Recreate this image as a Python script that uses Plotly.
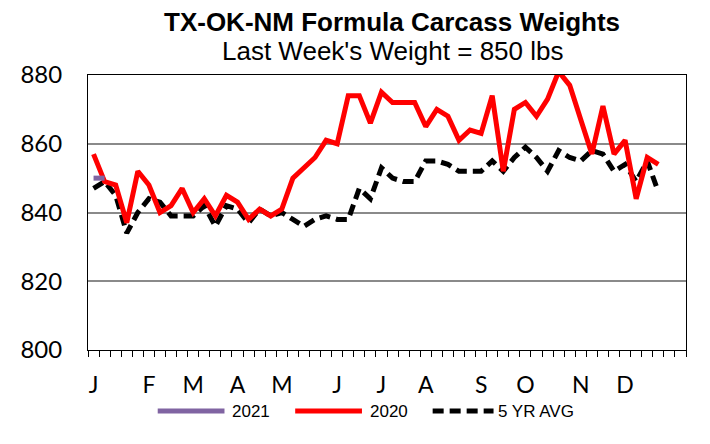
import plotly.graph_objects as go

# ---- data ----
weeks = list(range(1, 53))
w2021 = [850, 850]
w2020 = [857, 849, 848, 837, 852, 848, 840, 842, 847, 840, 844, 839, 845, 843, 838, 841,
         839, 841, 850, 853, 856, 861, 860, 874, 874, 866, 875, 872, 872, 872, 865, 870,
         868, 861, 864, 863, 874, 852, 870, 872, 868, 873, 881, 877, 867, 857, 871, 857,
         861, 844, 856, 854]
avg5 = [847, 849, 845, 834, 840, 844, 843, 839, 839, 839, 842, 836, 842, 841, 837, 841,
        839, 840, 838, 836, 838, 839, 838, 838, 847, 844, 853, 850, 849, 849, 855, 855,
        854, 852, 852, 852, 855, 852, 856, 859, 856, 852, 858, 856, 855, 858, 857, 852,
        854, 849, 855, 846]
month_labels = ["J", "F", "M", "A", "M", "J", "J", "A", "S", "O", "N", "D"]
month_weeks = [1, 6, 10, 14, 18, 23, 27, 31, 36, 40, 45, 49]
series_names = ["2021", "2020", "5 YR AVG"]
colors = ["#8064A2", "#FF0000", "#000000"]

# page is offset by the 8px body margin
OFF = 8
PL, PR, PT, PB = 77 - OFF, 686 - OFF, 75 - OFF, 350 - OFF
W, H = 710 - OFF, 444 - OFF

fig = go.Figure()
fig.add_trace(go.Scatter(x=weeks[:len(avg5)], y=avg5, mode="lines", name=series_names[2],
                         line=dict(color=colors[2], width=5, dash="11px,6px")))
fig.add_trace(go.Scatter(x=weeks[:len(w2020)], y=w2020, mode="lines", name=series_names[1],
                         line=dict(color=colors[1], width=5)))
fig.add_trace(go.Scatter(x=weeks[:len(w2021)], y=w2021, mode="lines", name=series_names[0],
                         line=dict(color=colors[0], width=5)))

fig.update_layout(
    width=W, height=H,
    margin=dict(l=PL, r=W - PR, t=PT, b=H - PB),
    paper_bgcolor="white", plot_bgcolor="white",
    showlegend=False,
    font=dict(family="Liberation Sans, Arial", color="black"),
)
fig.update_xaxes(
    range=[0.5, 54.5], tickmode="array", tickvals=month_weeks, ticktext=month_labels,
    ticks="", showgrid=False, zeroline=False,
    showline=True, linecolor="black", linewidth=1, mirror=True,
    tickfont=dict(family="Lato", size=23), ticklabelstandoff=14,
    minor=dict(tick0=0.5, dtick=1, ticks="outside", ticklen=6, tickcolor="black", tickwidth=1, showgrid=False),
)
fig.update_yaxes(
    range=[800, 880], dtick=20, ticks="", showgrid=True, gridcolor="#8a8a8a", gridwidth=2,
    zeroline=False, showline=True, linecolor="black", linewidth=1, mirror=True,
    tickfont=dict(family="Lato", size=24), ticklabelstandoff=20,
)


def px_x(p):
    return (p - OFF - PL) / (PR - PL)


def px_y(p):
    return (PB - (p - OFF)) / (PB - PT)


# titles
fig.add_annotation(text="<b>TX-OK-NM Formula Carcass Weights</b>", xref="paper", yref="paper",
                   x=px_x(387), y=px_y(22), showarrow=False,
                   font=dict(size=26, family="Liberation Sans, Arial"), xanchor="center", yanchor="middle")
fig.add_annotation(text="Last Week's Weight = 850 lbs", xref="paper", yref="paper",
                   x=px_x(387), y=px_y(51), showarrow=False,
                   font=dict(size=26, family="Liberation Sans, Arial"), xanchor="center", yanchor="middle")

# custom legend
leg_y = 411
legend_items = [
    (148, 216, 222, dict(color=colors[0], width=5), series_names[0]),
    (288, 356, 362, dict(color=colors[1], width=5), series_names[1]),
    (428, 490, 493, dict(color=colors[2], width=5, dash="11px,6px"), series_names[2]),
]
for x0, x1, xt, ln, label in legend_items:
    fig.add_shape(type="line", xref="paper", yref="paper", x0=px_x(x0), x1=px_x(x1),
                  y0=px_y(leg_y), y1=px_y(leg_y), line=ln)
    fig.add_annotation(text=label, xref="paper", yref="paper", x=px_x(xt), y=px_y(leg_y),
                       showarrow=False, xanchor="left", yanchor="middle",
                       font=dict(size=17, family="Liberation Sans, Arial"))

fig.write_html("out.html")
